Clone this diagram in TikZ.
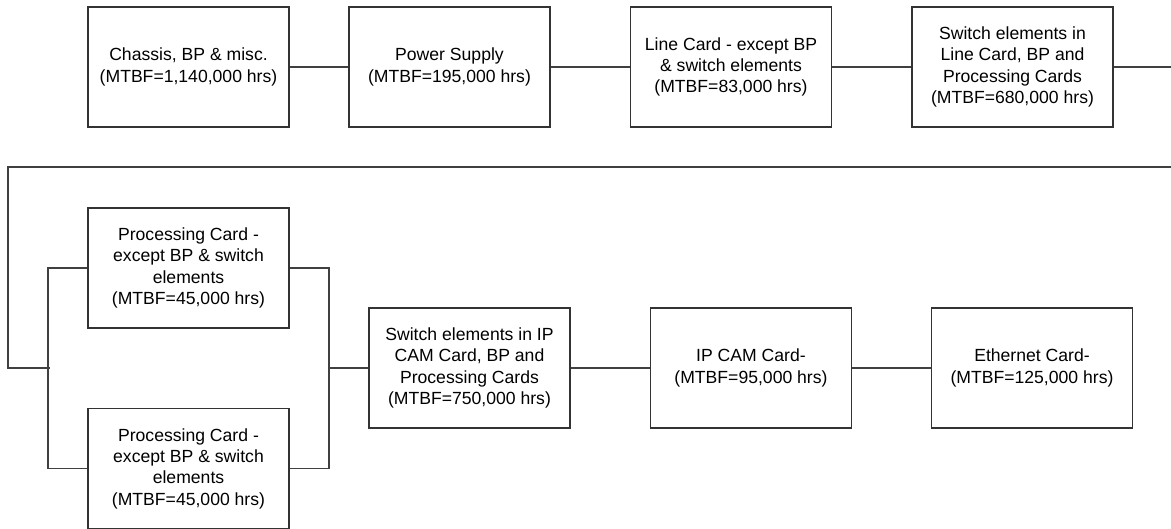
\documentclass[tikz,border=0pt]{standalone}
\usepackage{fontspec}
\setmainfont{Liberation Sans}
\begin{document}
\begin{tikzpicture}[x=1pt,y=-1pt,
  blk/.style={draw=black!80,line width=1.1pt,minimum width=201pt,minimum height=120pt,inner sep=0pt,align=center,font=\fontsize{17.6}{21.3}\selectfont},
  wire/.style={draw=black!75,line width=1.1pt}]
\useasboundingbox (0,0) rectangle (1171,529);
\node[blk] (c) at (188.5,67) {Chassis, BP \& misc.\\(MTBF=1,140,000 hrs)};
\node[blk] (ps) at (449.5,67) {Power Supply\\(MTBF=195,000 hrs)};
\node[blk] (lc) at (731,67) {Line Card - except BP\\\& switch elements\\(MTBF=83,000 hrs)};
\node[blk] (sw) at (1012.5,67) {Switch elements in\\Line Card, BP and\\Processing Cards\\(MTBF=680,000 hrs)};
\node[blk] (p1) at (188.5,268) {Processing Card -\\except BP \& switch\\elements\\(MTBF=45,000 hrs)};
\node[blk] (p2) at (188.5,468.5) {Processing Card -\\except BP \& switch\\elements\\(MTBF=45,000 hrs)};
\node[blk] (sip) at (469.5,368) {Switch elements in IP\\CAM Card, BP and\\Processing Cards\\(MTBF=750,000 hrs)};
\node[blk] (ip) at (751,368) {IP CAM Card-\\(MTBF=95,000 hrs)};
\node[blk] (eth) at (1032,368) {Ethernet Card-\\(MTBF=125,000 hrs)};
\coordinate (r1) at (1172,67);
\coordinate (fr) at (1172,167);
\coordinate (fl) at (8,167);
\coordinate (fm) at (8,368);
\coordinate (fe) at (50,368);
\coordinate (lbt) at (48,268);
\coordinate (lbb) at (48,468.5);
\coordinate (rbt) at (329,268);
\coordinate (rbb) at (329,468.5);
\coordinate (rbm) at (329,368);
\draw[wire] (c.east) -- (ps.west);
\draw[wire] (ps.east) -- (lc.west);
\draw[wire] (lc.east) -- (sw.west);
\draw[wire] (sw.east) -- (r1);
\draw[wire] (fr) -- (fl) -- (fm) -- (fe);
\draw[wire] (p1.west) -- (lbt) -- (lbb) -- (p2.west);
\draw[wire] (p1.east) -- (rbt) -- (rbb) -- (p2.east);
\draw[wire] (rbm) -- (sip.west);
\draw[wire] (sip.east) -- (ip.west);
\draw[wire] (ip.east) -- (eth.west);
\end{tikzpicture}
\end{document}
